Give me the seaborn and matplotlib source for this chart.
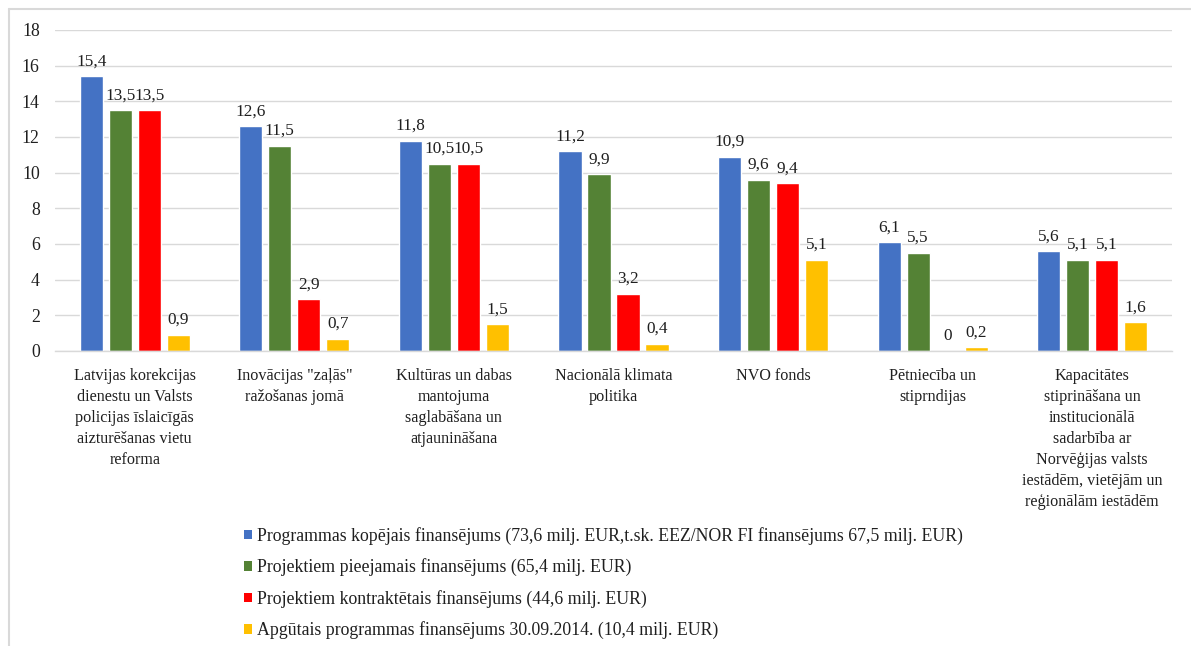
import matplotlib
matplotlib.use("Agg")
import matplotlib.pyplot as plt
import seaborn as sns
import pandas as pd
from matplotlib.patches import Patch

categories = [
    "Latvijas korekcijas\ndienestu un Valsts\npolicijas īslaicīgās\naizturēšanas vietu\nreforma",
    "Inovācijas \"zaļās\"\nražošanas jomā",
    "Kultūras un dabas\nmantojuma\nsaglabāšana un\natjaunināšana",
    "Nacionālā klimata\npolitika",
    "NVO fonds",
    "Pētniecība un\nstiprndijas",
    "Kapacitātes\nstiprināšana un\ninstitucionālā\nsadarbība ar\nNorvēģijas valsts\niestādēm, vietējām un\nreģionālām iestādēm",
]
series_names = [
    "Programmas kopējais finansējums (73,6 milj. EUR,t.sk. EEZ/NOR FI finansējums 67,5 milj. EUR)",
    "Projektiem pieejamais finansējums (65,4 milj. EUR)",
    "Projektiem kontraktētais finansējums (44,6 milj. EUR)",
    "Apgūtais programmas finansējums 30.09.2014. (10,4 milj. EUR)",
]
kopejais = [15.4, 12.6, 11.8, 11.2, 10.9, 6.1, 5.6]
pieejamais = [13.5, 11.5, 10.5, 9.9, 9.6, 5.5, 5.1]
kontraktetais = [13.5, 2.9, 10.5, 3.2, 9.4, 0.0, 5.1]
apgutais = [0.9, 0.7, 1.5, 0.4, 5.1, 0.2, 1.6]
colors = ["#4472C4", "#548235", "#FF0000", "#FFC000"]

rows = []
for s, vals in zip(series_names, [kopejais, pieejamais, kontraktetais, apgutais]):
    for c, v in zip(categories, vals):
        rows.append({"cat": c, "series": s, "val": v})
df = pd.DataFrame(rows)

sns.set_theme(style="white")
plt.rcParams["font.family"] = ["Liberation Serif", "DejaVu Serif"]

FS = 12.8
TXT = "#1f1f1f"

fig = plt.figure(figsize=(11.91, 6.46), dpi=100)
ax = fig.add_axes([55/1191, 1-351/646, (1172-55)/1191, (351-30)/646])

sns.barplot(data=df, x="cat", y="val", hue="series", palette=colors,
            width=0.727, gap=0.2, ax=ax, legend=False, saturation=1,
            order=categories, hue_order=series_names)

for cont in ax.containers:
    ax.bar_label(cont, labels=[("0" if b.get_height() == 0 else f"{b.get_height():.1f}".replace(".", ","))
                               for b in cont], padding=5, fontsize=12.4, color=TXT)

ax.set_ylim(0, 18)
ax.set_yticks(range(0, 19, 2))
ax.set_xlim(-0.5, 6.5)
ax.yaxis.grid(True, color="#D9D9D9", linewidth=1)
ax.set_axisbelow(True)
for side in ["top", "right", "left"]:
    ax.spines[side].set_visible(False)
ax.spines["bottom"].set_color("#D9D9D9")
ax.spines["bottom"].set_linewidth(1)
ax.tick_params(axis="both", length=0, colors=TXT)
ax.tick_params(axis="y", pad=11, labelsize=FS)
ax.tick_params(axis="x", pad=12, labelsize=11.6)
for lbl in ax.get_xticklabels():
    lbl.set_linespacing(1.42)
ax.set_xlabel("")
ax.set_ylabel("")

handles = [Patch(facecolor=c, edgecolor="none") for c in colors]
fig.legend(handles, series_names, loc="upper left", bbox_to_anchor=(244/1191, 1-527/646),
           frameon=False, fontsize=FS, handlelength=0.45, handleheight=0.45,
           handletextpad=0.3, labelspacing=0.76, borderaxespad=0, borderpad=0,
           labelcolor=TXT)

# outer chart frame
fig.add_artist(plt.Line2D([8.5/1191, 8.5/1191], [0, 1-8.5/646], transform=fig.transFigure,
                          color="#D9D9D9", linewidth=1.5))
fig.add_artist(plt.Line2D([8.5/1191, 1], [1-8.5/646, 1-8.5/646], transform=fig.transFigure,
                          color="#D9D9D9", linewidth=1.5))

fig.savefig("out.png", dpi=100, facecolor="white")
